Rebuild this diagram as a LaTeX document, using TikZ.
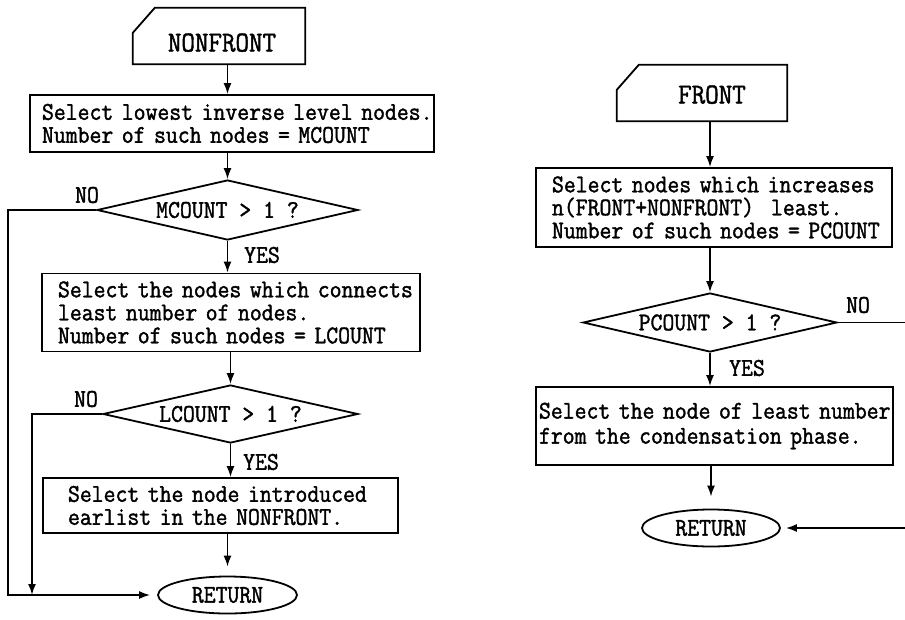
\documentclass[tikz,border=0pt]{standalone}
\usepackage{fontspec}
\newfontfamily\flowfont[FakeStretch=0.905,FakeBold=1.5]{Latin Modern Mono}
\usetikzlibrary{arrows.meta,shapes.geometric,calc}

\tikzset{
  txt/.style={font={\flowfont\fontsize{25.5pt}{23pt}\selectfont}, inner sep=0pt},
  procbox/.style={txt, draw, line width=1.8pt, rectangle, align=left, inner ysep=0pt},
  cardlabel/.style={font={\flowfont\fontsize{29pt}{29pt}\selectfont}, inner sep=0pt, text depth=0pt},
  cardline/.style={line width=1.8pt, line join=miter},
  decision/.style={txt, draw, diamond, line width=1.8pt, shape aspect=4.5},
  terminal/.style={txt, draw, ellipse, line width=1.8pt},
  link/.style={line width=1.7pt},
  flow/.style={link, -{Latex[length=11pt,width=8pt]}},
  tag/.style={txt}
}

\begin{document}
\begin{tikzpicture}[x=1pt,y=-1pt]
\path[use as bounding box, fill=white] (0,0) rectangle (905,619);

% ---------- NONFRONT procedure ----------
\node[cardlabel, minimum width=172pt, minimum height=56pt, text height=31pt] (nf) at (219,36) {\hspace*{6pt}NONFRONT};
\draw[cardline] ([xshift=22pt]nf.north west) -- (nf.north east) -- (nf.south east)
  -- (nf.south west) -- ([yshift=-25pt]nf.north west) -- cycle;

\node[procbox, text width=380pt, inner xsep=12pt, minimum height=57pt] (b1) at (232,123.5)
  {\mbox{Select lowest inverse level nodes.}\\\mbox{Number of such nodes = MCOUNT}};

\node[decision, minimum width=261pt, minimum height=60pt] (d1) at (227.5,210) {MCOUNT > 1 ?};

\node[procbox, text width=346pt, inner xsep=16pt, minimum height=78pt] (b2) at (231,312.5)
  {\mbox{Select the nodes which connects}\\\mbox{least number of nodes.}\\\mbox{Number of such nodes = LCOUNT}};

\node[decision, minimum width=255pt, minimum height=58pt] (d2) at (230.5,414) {LCOUNT > 1 ?};

\node[procbox, text width=305pt, inner xsep=25pt, minimum height=55pt] (b3) at (220.5,505.5)
  {\mbox{Select the node introduced}\\\mbox{earlist in the NONFRONT.}};

\node[terminal, minimum width=139pt, minimum height=37pt] (r1) at (227.5,595) {RETURN};

\coordinate (railA) at (8,595);
\coordinate (railB) at (32,595);

\node[tag] (no1) at (87,195) {NO};
\node[tag] (yes1) at (262,255) {YES};
\node[tag] (no2) at (86,399) {NO};
\node[tag] (yes2) at (261,462) {YES};

\draw[flow] (nf.south -| d1.north) -- (b1.north -| d1.north);
\draw[flow] (b1.south -| d1.north) -- (d1.north);
\draw[flow] (d1.south) -- (b2.north -| d1.south);
\draw[flow] (b2.south -| d2.north) -- (d2.north);
\draw[flow] (d2.south) -- (b3.north -| d2.south);
\draw[flow, shorten >=9pt] (b3.south -| r1.north) -- (r1.north);
\draw[flow, shorten >=7pt] (d1.west) -| (railA) -- (r1.west);
\draw[flow] (d2.west) -| (railB);

% ---------- FRONT procedure ----------
\node[cardlabel, minimum width=170pt, minimum height=56pt, text height=21pt] (fr) at (702,93) {\hspace*{20pt}FRONT};
\draw[cardline] ([xshift=22pt]fr.north west) -- (fr.north east) -- (fr.south east)
  -- (fr.south west) -- ([yshift=-25pt]fr.north west) -- cycle;

\node[procbox, text width=324pt, inner xsep=16pt, minimum height=79pt] (b4) at (714,207.5)
  {\mbox{Select nodes which increases}\\\mbox{n(FRONT+NONFRONT)\ \ least.}\\\mbox{Number of such nodes = PCOUNT}};

\node[decision, minimum width=254pt, minimum height=59pt] (d3) at (710,322.5) {PCOUNT > 1 ?};

\node[procbox, text width=351pt, inner xsep=3pt, minimum height=78pt,
      font={\flowfont\fontsize{25.5pt}{25pt}\selectfont}] (b5) at (714.5,426)
  {\mbox{Select the node of least number}\\\mbox{from the condensation phase.}};

\node[terminal, minimum width=138pt, minimum height=37pt] (r2) at (711,528) {RETURN};

\coordinate (railC) at (909,528);

\node[tag] (no3) at (858,305) {NO};
\node[tag] (yes3) at (747,368) {YES};

\draw[flow] (fr.south -| d3.north) -- (b4.north -| d3.north);
\draw[flow] (b4.south -| d3.north) -- (d3.north);
\draw[flow] (d3.south) -- (b5.north -| d3.south);
\draw[flow, shorten >=12pt] (b5.south -| r2.north) -- (r2.north);
\draw[flow, shorten >=5pt] (d3.east) -| (railC) -- (r2.east);
\end{tikzpicture}
\end{document}
